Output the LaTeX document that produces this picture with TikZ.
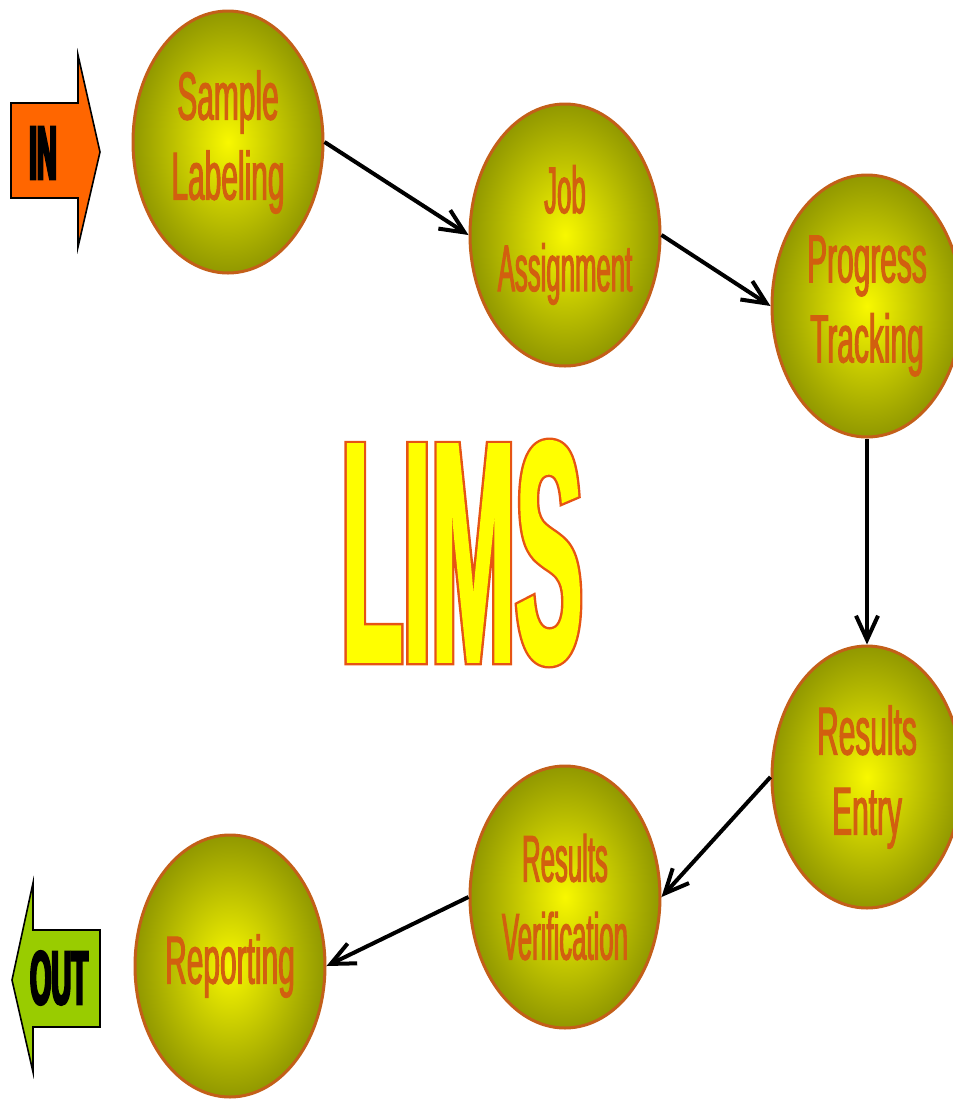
\documentclass[tikz,border=0pt]{standalone}
\usepackage{fontspec}
\setmainfont{Liberation Sans}
\usetikzlibrary{shapes.geometric,arrows.meta}
\newfontfamily\ballfont[FakeStretch=0.44]{Liberation Sans}
\newfontfamily\narrowballfont[FakeStretch=0.39]{Liberation Sans}
\newfontfamily\tagfont[FakeStretch=0.36]{Liberation Sans Bold}
\newfontfamily\limsfont[FakeStretch=0.32]{Liberation Sans Bold}
\definecolor{ballcore}{RGB}{248,248,0}
\definecolor{ballrim}{RGB}{145,152,0}
\definecolor{ballline}{RGB}{195,95,25}
\definecolor{balltext}{RGB}{210,95,15}
\definecolor{inorange}{RGB}{255,102,0}
\definecolor{outgreen}{RGB}{153,204,0}
\definecolor{limsfill}{RGB}{255,255,0}
\definecolor{limsline}{RGB}{230,84,20}
% stroke width for text (fill and stroke mode)
\newcommand\heavy[1]{\special{pdf:literal direct 2 Tr #1 w}}
\tikzset{%
  stage/.style   = {ellipse, draw=ballline, line width=1.5pt,%
                    inner color=ballcore, outer color=ballrim,%
                    minimum width=95pt, minimum height=131pt,%
                    inner xsep=-12pt, inner ysep=0pt,%
                    align=center, text=balltext,%
                    font=\ballfont\fontsize{34}{40}\selectfont\heavy{0.5}},%
  narrowstage/.style = {stage, font=\narrowballfont\fontsize{33}{39}\selectfont\heavy{0.5}},%
  link/.style    = {line width=2pt,%
                    -{Straight Barb[length=12pt,width=11pt,line width=2pt]}},%
  tag/.style     = {draw=black, line width=0.8pt, line join=miter},%
  tagtext/.style = {inner sep=0pt, font=\tagfont\fontsize{38}{38}\selectfont\heavy{1.2}},%
  title/.style   = {inner sep=0pt, font=\limsfont\fontsize{158}{158}\selectfont}%
}

\begin{document}
\begin{tikzpicture}[x=0.5pt, y=-0.5pt]%
	\useasboundingbox (0,0) rectangle (953,1099);%
	% stages
	\node [stage] (sample)   at (228,142) {Sample\\Labeling};%
	\node [narrowstage] (job) at (565,235) {Job\\Assignment};%
	\node [stage] (progress) at (867,306) {Progress\\Tracking};%
	\node [stage] (entry)    at (867,777) {Results\\Entry};%
	\node [narrowstage] (verify) at (565,897) {Results\\Verification};%
	\node [stage] (report)   at (230,966) {Reporting};%
	% flow
	\draw [link] (sample.east) -- (job.west);%
	\draw [link] (job.east) -- (progress.west);%
	\draw [link] (progress.south) -- (entry.north);%
	\draw [link] (entry.west) -- (verify.east);%
	\draw [link] (verify.west) -- (report.east);%
	% in and out
	\draw [tag, fill=inorange] (11,103) -- (78,103) -- (78,55) -- (100,152)%
		-- (78,247) -- (78,198) -- (11,198) -- cycle;%
	\node [tagtext] (inlabel) at (43,153) {IN};%
	\draw [tag, fill=outgreen] (12,980) -- (33,883) -- (33,930) -- (100,930)%
		-- (100,1027) -- (33,1027) -- (33,1072) -- cycle;%
	\node [tagtext] (outlabel) at (59,978) {OUT};%
	% title: orange rim under a yellow face
	\node [title] (limsrim) at (462,553)%
		{\color{limsline}\heavy{3.6}LIMS};%
	\node [title] (lims) at (462,553)%
		{\color{limsfill}\heavy{1.2}LIMS};%
\end{tikzpicture}
\end{document}
